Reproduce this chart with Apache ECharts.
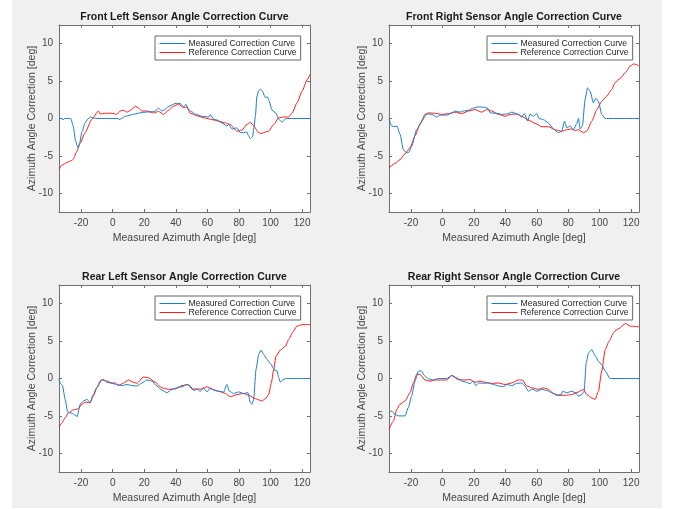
<!DOCTYPE html>
<html>
<head>
<meta charset="utf-8">
<script src="https://cdn.jsdelivr.net/npm/echarts@6/dist/echarts.min.js"></script>
<style>
html,body{margin:0;padding:0;background:#fff;}
#bg{position:absolute;left:12px;top:0;width:650px;height:508px;background:#f0f0f0;}
#chart{position:absolute;left:0;top:0;width:675px;height:509px;}
</style>
</head>
<body>
<div id="bg"></div>
<div id="chart"></div>
<script>
const titles = ['Front Left Sensor Angle Correction Curve','Front Right Sensor Angle Correction Curve','Rear Left Sensor Angle Correction Curve','Rear Right Sensor Angle Correction Curve'];
const seriesNames = ['Measured Correction Curve','Reference Correction Curve'];
const xName = 'Measured Azimuth Angle [deg]';
const yName = 'Azimuth Angle Correction [deg]';
const xTicks = [-20,0,20,40,60,80,100,120];
const yTicks = [-10,-5,0,5,10];
const xRange = [-34,125];
const yRange = [-12.5,12.5];

const frontLeftMeasured = [[-34,0],[-32,0],[-31.5,-0.2],[-30.5,0],[-26.5,0],[-25,-1],[-23.5,-3],[-22,-3.9],[-21,-3.4],[-19.5,-1.8],[-17.5,-0.6],[-15.5,0],[-14,0.2],[-12,0.05],[-10,0],[3.5,0],[4,-0.15],[5.5,0],[8,0.3],[11,0.45],[14,0.6],[17,0.75],[20.5,0.85],[25,0.9],[27,1.0],[29,1.4],[31,1.0],[33,1.2],[35,1.55],[37.5,1.8],[39.5,2.0],[42.8,2.0],[45,1.55],[46.4,1.9],[48,1.2],[50,0.9],[52.3,0.6],[56.5,0.3],[60.8,0.2],[61.8,0.5],[64,-0.1],[66,-0.2],[69.2,-0.6],[72.4,-1.0],[73.5,-0.8],[75.6,-1.4],[78.7,-1.25],[80.9,-1.9],[83,-1.9],[85,-1.8],[86,-2.3],[87.2,-2.7],[88.7,-2.4],[89.5,-1.2],[90.4,0.3],[91.4,3.0],[92.5,3.7],[93.6,3.9],[94.6,3.75],[96.7,2.8],[98,2.9],[98.8,2.5],[101,1.1],[103.5,0.7],[105.2,-0.1],[107.3,-0.5],[109.4,-0.05],[110.5,0],[125,0]];
const frontLeftReference = [[-34,-6.8],[-32.3,-6.25],[-29.1,-5.9],[-25.9,-5.6],[-24.9,-5.4],[-22.7,-4.4],[-20.6,-3.3],[-17.5,-1.9],[-13.2,-0.1],[-9,1.0],[-7.9,0.6],[-4.8,0.7],[-0.5,0.7],[2.6,0.55],[4.7,1.0],[6.9,1.1],[9,0.85],[12.1,1.2],[14.3,1.65],[16.4,1.4],[18.5,1.0],[21.7,1.0],[26,0.75],[29,0.95],[32.2,0.55],[35.4,1.1],[38.6,1.65],[41.7,1.9],[45,1.45],[47,1.55],[49.1,0.7],[54.4,0.3],[58.7,0.05],[62.9,-0.15],[67.1,-0.35],[71.4,-0.6],[74.5,-0.8],[78.7,-1.7],[81.9,-1.55],[85,-0.8],[87.2,-0.5],[89.3,-1.0],[92.5,-1.9],[94.6,-2.0],[96.7,-1.8],[98.8,-1.7],[102,-0.8],[105.2,0.1],[108.4,0.2],[111.5,0.2],[113.6,0.7],[116.8,2.1],[120,3.65],[123.2,5.2],[125,5.9]];

const frontRightMeasured = [[-34,0],[-32.3,-1.0],[-30.2,-1.1],[-29,-1.0],[-27,-2.1],[-24.9,-4.15],[-22.8,-4.6],[-21.3,-4.5],[-19.6,-3.7],[-16.4,-1.5],[-13.2,-0.35],[-10,0.6],[-6.8,0.55],[-3.7,0.2],[-1.5,0.45],[2.7,0.45],[5.9,0.75],[8,1.0],[11.2,0.85],[13.3,1.0],[16.5,1.1],[19.7,1.4],[22.9,1.55],[27.1,1.5],[29.2,1.3],[30.3,0.75],[34.5,0.7],[37.7,0.55],[40.9,0.6],[44.1,0.85],[48.3,0.55],[50.4,0.2],[52.1,0.65],[54.2,-0.35],[55.7,0.6],[57.9,0.3],[60,0.65],[61.5,0],[64.2,-0.15],[67.4,-0.6],[70.6,-1.4],[73.8,-1.9],[75.9,-1.7],[77.6,-0.35],[79.1,-1.25],[81.2,-1.0],[83.3,-1.5],[85.4,-0.7],[86.5,0],[87.6,-1.4],[89,-1.0],[90.7,2.5],[92.2,4.1],[93.9,3.65],[96,2.1],[97.5,2.7],[99.2,2.3],[101.3,0.55],[103.5,0],[125,0]];
const frontRightReference = [[-34,-6.6],[-30.2,-6.0],[-27,-5.5],[-23.8,-4.7],[-20.6,-3.9],[-17.5,-2.35],[-14.3,-0.8],[-11.1,0.55],[-9,0.75],[-4.7,0.7],[-0.5,0.55],[3.8,0.65],[8,0.85],[12.2,0.65],[16.5,1.0],[20.7,1.2],[25,0.85],[28.2,1.2],[31.3,1.0],[35.6,0.55],[39.8,0.3],[43,0.55],[47.2,0.6],[50.4,0.3],[54.7,-0.2],[58.9,-0.65],[63.2,-1.1],[67.4,-1.1],[71.6,-1.5],[75.9,-1.7],[79.1,-1.5],[82.2,-1.4],[84.4,-1.6],[86.5,-1.5],[89.7,-1.9],[91.8,-1.7],[95,-0.35],[98.2,1.2],[101.3,2.3],[104.5,3.0],[107.7,3.9],[109.8,4.8],[113,5.35],[116.2,6.1],[119.4,7.0],[121.5,7.3],[123.6,7.2],[125,7.0]];

const rearLeftMeasured = [[-34,0],[-33.3,-0.6],[-31.8,-0.95],[-30.1,-2.8],[-28.5,-4.5],[-25.9,-4.65],[-23.8,-4.9],[-22.5,-5.1],[-20.6,-3.45],[-18.5,-3.0],[-16.4,-2.8],[-14.3,-3.15],[-12.2,-2.1],[-10.1,-1.25],[-7.9,-0.35],[-5.8,-0.15],[-3.7,-0.5],[-0.5,-0.65],[2.6,-0.8],[5.8,-0.95],[9,-0.8],[12.1,-0.95],[15.3,-1.0],[18.5,-0.6],[21.7,-0.2],[24.8,-0.35],[28,-1.0],[31.2,-1.55],[34.3,-1.9],[37.5,-1.45],[40.7,-1.25],[43.9,-1.1],[47,-0.8],[49.1,-1.0],[51.3,-1.6],[53.4,-1.45],[55.5,-1.7],[57.6,-1.25],[59.7,-1.8],[61.8,-1.25],[64,-1.55],[67.1,-1.7],[70.3,-1.8],[72.4,-0.8],[73.9,-1.7],[76.6,-2.0],[79.8,-1.8],[83,-2.0],[85.7,-1.9],[87.2,-3.25],[88.3,-3.45],[89.3,-2.8],[90.8,1.2],[92.5,3.2],[94,3.8],[95.7,3.2],[97.8,2.55],[99.9,2.0],[102,1.35],[103.1,1.0],[104.1,1.05],[105.2,0.1],[106.2,-0.5],[107.7,-0.2],[109.4,0],[125,0]];
const rearLeftReference = [[-34,-6.45],[-32.3,-6.0],[-30.1,-5.25],[-28,-4.6],[-24.9,-4.2],[-21.7,-4.05],[-19.6,-3.45],[-17,-3.15],[-14.3,-3.25],[-12.2,-2.35],[-10.1,-1.25],[-6.9,-0.15],[-3.7,-0.35],[-0.5,-0.6],[1.6,-0.6],[3.7,-0.95],[6.9,-0.6],[10,-0.2],[13.2,-0.5],[15.3,-0.65],[19.5,0.2],[22.7,0.1],[26.9,-0.5],[31.2,-1.25],[35.4,-1.45],[39.6,-1.4],[43.9,-0.95],[47.7,-0.8],[50.2,-1.4],[53.4,-1.4],[56.5,-1.4],[59.7,-1.1],[62.9,-1.45],[67.1,-1.7],[71.4,-2.0],[74.5,-2.45],[78.7,-2.15],[83,-2.0],[86.2,-2.25],[90.4,-2.7],[94.6,-3.0],[96.7,-2.7],[98.8,-2.15],[100.5,-0.6],[102,1.2],[103.5,3.0],[106.2,3.8],[109.4,4.3],[111.5,5.2],[114,6.2],[116.8,7.0],[120,7.2],[125,7.2]];

const rearRightMeasured = [[-34,-4.5],[-32.3,-4.35],[-30.2,-4.8],[-28.1,-5.0],[-23.8,-5.0],[-21.7,-3.9],[-19.6,-2.35],[-17.5,-0.35],[-15.3,0.95],[-13.6,1.05],[-11.5,0.4],[-9,-0.05],[-5.8,-0.2],[-2.6,0],[2.7,0],[5.9,0.4],[9.1,0.1],[12.2,-0.35],[15.4,-0.5],[17.5,-0.7],[19.7,-0.35],[21.2,-0.95],[23.3,-0.6],[26,-0.65],[29.2,-0.6],[32.4,-0.8],[35.6,-1.0],[38.8,-1.1],[40.9,-0.8],[44.1,-0.95],[47.2,-0.65],[50.4,-0.6],[52.5,-1.0],[54.7,-1.7],[56.8,-1.4],[60,-1.7],[63.2,-1.45],[66.3,-1.6],[69.5,-1.9],[72.7,-2.25],[75.5,-2.15],[76.5,-1.7],[79.1,-1.9],[82.2,-1.7],[84.4,-1.9],[86.5,-2.35],[88.6,-2.15],[90.1,-1.7],[91.4,2.1],[92.9,3.4],[95,3.85],[97.1,3.05],[99.2,2.3],[101.3,1.85],[103.5,1.0],[106.6,0],[125,0]];
const rearRightReference = [[-34,-6.8],[-31.2,-5.7],[-29.1,-4.15],[-27,-3.45],[-23.8,-3.0],[-20.6,-1.9],[-18.5,-0.6],[-16.4,0.55],[-14.3,0.55],[-11.1,-0.2],[-7.9,-0.35],[-4.7,-0.2],[-0.5,-0.2],[2.7,-0.2],[5.9,0.4],[10.1,-0.15],[14.4,-0.2],[17.5,-0.15],[20.7,-0.5],[23.9,-0.35],[27.1,-0.5],[31.3,-0.65],[35.6,-0.6],[39.8,-0.8],[44.1,-0.6],[48.3,-0.2],[50.9,-0.2],[53.6,-1.0],[56.8,-1.25],[61,-1.45],[64.2,-1.25],[67.4,-1.45],[70.6,-2.0],[73.8,-2.25],[78,-2.25],[82.2,-2.15],[86.5,-1.8],[89.7,-1.45],[91.8,-2.15],[95,-2.6],[97.1,-2.8],[99.2,-1.7],[101.3,1.0],[103.5,3.85],[106,5.0],[108.8,6.1],[110.9,6.55],[113,6.75],[115.1,7.2],[116.6,7.35],[119.4,7.0],[125,6.9]];

const measuredSets = [frontLeftMeasured, frontRightMeasured, rearLeftMeasured, rearRightMeasured];
const referenceSets = [frontLeftReference, frontRightReference, rearLeftReference, rearRightReference];

const FONT = '"Liberation Sans", Arial, Helvetica, sans-serif';
const AXC = '#707070';
const TXC = '#454545';
const BLUE = '#1a7cc6';
const RED = '#ff1a1a';
const grids = [
  {left:59, top:25, width:251, height:187},
  {left:389, top:25, width:250, height:187},
  {left:59, top:285, width:251, height:187},
  {left:389, top:285, width:250, height:187}
];

const option = {animation:false, title:[], grid:[], xAxis:[], yAxis:[], legend:[], series:[]};
grids.forEach((g,i)=>{
  option.grid.push(Object.assign({show:true, backgroundColor:'#fff', borderWidth:0, containLabel:false}, g));
  option.title.push({text:titles[i], left:g.left+g.width/2, top:g.top-14, textAlign:'center', padding:0,
    textStyle:{fontFamily:FONT, fontSize:10.5, fontWeight:'bold', color:'#1a1a1a', lineHeight:12}});
  const xBase = {type:'value', gridIndex:i, min:xRange[0], max:xRange[1], splitLine:{show:false},
    axisLine:{show:true, onZero:false, lineStyle:{color:AXC, width:1}},
    axisTick:{show:true, inside:true, length:3, customValues:xTicks, lineStyle:{color:AXC}}};
  option.xAxis.push(Object.assign({}, xBase, {position:'bottom', name:xName, nameLocation:'middle', nameGap:20.5,
    nameMoveOverlap:false,
    nameTextStyle:{fontFamily:FONT, fontSize:10.5, color:TXC},
    axisLabel:{show:true, customValues:xTicks, margin:6.5, fontFamily:FONT, fontSize:10, color:TXC}}));
  option.xAxis.push(Object.assign({}, xBase, {position:'top', axisLabel:{show:false}}));
  const yBase = {type:'value', gridIndex:i, min:yRange[0], max:yRange[1], splitLine:{show:false},
    axisLine:{show:true, onZero:false, lineStyle:{color:AXC, width:1}},
    axisTick:{show:true, inside:true, length:3, customValues:yTicks, lineStyle:{color:AXC}}};
  option.yAxis.push(Object.assign({}, yBase, {position:'left', name:yName, nameLocation:'middle', nameGap:21, nameRotate:90,
    nameMoveOverlap:false,
    nameTextStyle:{fontFamily:FONT, fontSize:10.5, color:TXC},
    axisLabel:{show:true, customValues:yTicks, margin:6, fontFamily:FONT, fontSize:10, color:TXC}}));
  option.yAxis.push(Object.assign({}, yBase, {position:'right', axisLabel:{show:false}}));
  const lgLeft = (i%2===0) ? 155 : 487;
  const lgTop = g.top + 11;
  option.legend.push({orient:'vertical', left:lgLeft, top:lgTop, padding:[3,4,3,4], itemWidth:26, itemHeight:10, itemGap:0,
    backgroundColor:'#fff', borderColor:'#666', borderWidth:1, borderRadius:0, selectedMode:false,
    itemStyle:{color:'rgba(0,0,0,0)', borderWidth:0, borderColor:'rgba(0,0,0,0)'},
    lineStyle:{width:1},
    data:seriesNames, textStyle:{fontFamily:FONT, fontSize:8.7, color:'#262626', padding:[0,0,0,-2]}});
  option.series.push({name:seriesNames[0], type:'line', xAxisIndex:2*i, yAxisIndex:2*i, data:measuredSets[i],
    symbol:'none', smooth:0.2, smoothMonotone:'x', lineStyle:{color:BLUE, width:1}, itemStyle:{color:BLUE}, z:3});
  option.series.push({name:seriesNames[1], type:'line', xAxisIndex:2*i, yAxisIndex:2*i, data:referenceSets[i],
    symbol:'none', smooth:0.2, smoothMonotone:'x', lineStyle:{color:RED, width:1}, itemStyle:{color:RED}, z:2});
});

const chart = echarts.init(document.getElementById('chart'), null, {renderer:'canvas'});
chart.setOption(option);
</script>
</body>
</html>
